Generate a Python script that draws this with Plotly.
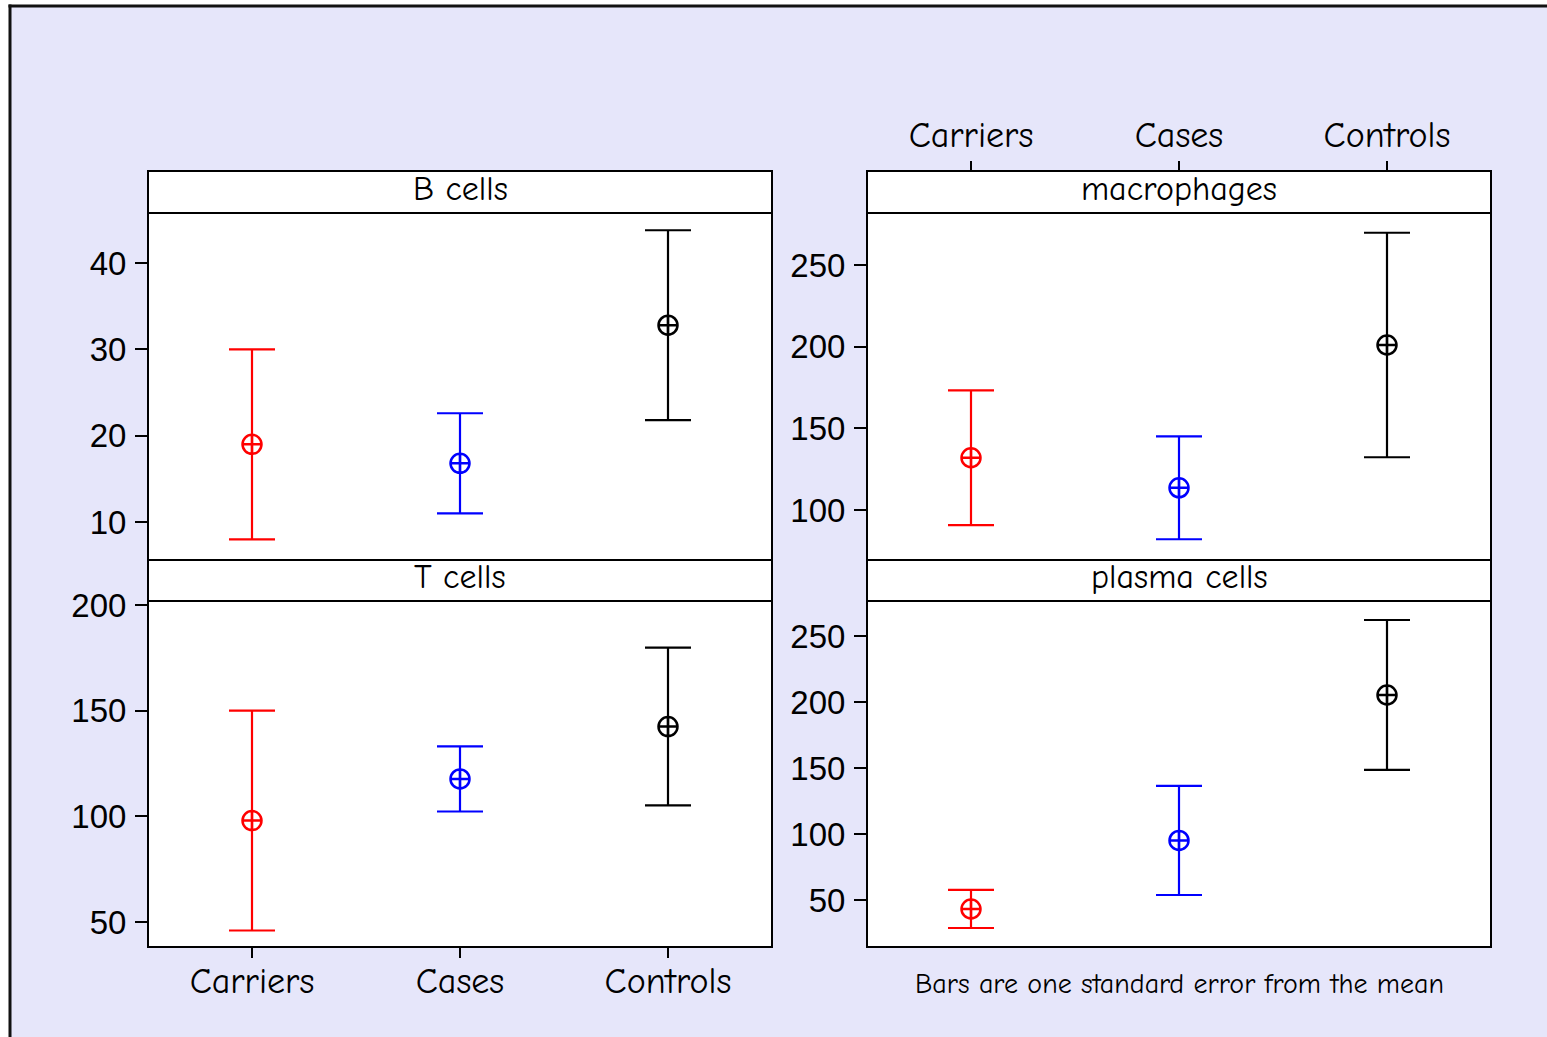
import plotly.graph_objects as go

W, H = 1547, 1037

# ---- data -------------------------------------------------------------
categories = ["Carriers", "Cases", "Controls"]
group_colors = ["#FF0000", "#0000FF", "#000000"]

b_mean = [19.0, 16.8, 32.8]
b_se = [11.0, 5.8, 11.0]

t_mean = [98.0, 117.7, 142.5]
t_se = [52.0, 15.4, 37.3]

mac_mean = [132.0, 113.6, 201.0]
mac_se = [41.2, 31.5, 68.7]

plasma_mean = [43.2, 95.1, 205.3]
plasma_se = [14.4, 41.3, 56.8]

b_ticks = [10, 20, 30, 40]
t_ticks = [50, 100, 150, 200]
mac_ticks = [100, 150, 200, 250]
plasma_ticks = [50, 100, 150, 200, 250]

footnote = "Bars are one standard error from the mean"

# ---- layout geometry (pixels) -----------------------------------------
LEFT = (148, 772)
RIGHT = (867, 1491)
TOP = (213, 560)      # plot area, upper row
BOT = (601, 947)      # plot area, lower row
STRIP_TOP = (171, 213)
STRIP_BOT = (560, 601)

PAGE = "#E6E6FA"


def px(x):
    return x / W


def py(y):
    return 1 - y / H


panels = [
    # name, x-px, y-px, means, ses, yrange, yticks, strip
    ("B cells", LEFT, TOP, b_mean, b_se, [5.6, 45.8], b_ticks, STRIP_TOP),
    ("macrophages", RIGHT, TOP, mac_mean, mac_se, [69.4, 281.8], mac_ticks, STRIP_TOP),
    ("T cells", LEFT, BOT, t_mean, t_se, [38.2, 201.9], t_ticks, STRIP_BOT),
    ("plasma cells", RIGHT, BOT, plasma_mean, plasma_se, [14.4, 276.5], plasma_ticks, STRIP_BOT),
]

COMIC = "Comic Sans MS, Comic Neue, Lato, sans-serif"
NUMFONT = "Arial, Liberation Sans, sans-serif"

fig = go.Figure()
shapes = []
annotations = []
layout = {}

# white margin outside the page frame (left and top edges)
shapes.append(dict(type="rect", xref="paper", yref="paper",
                   x0=0, x1=px(10), y0=0, y1=1,
                   fillcolor="white", line=dict(width=0), layer="below"))
shapes.append(dict(type="rect", xref="paper", yref="paper",
                   x0=0, x1=1, y0=py(6), y1=1,
                   fillcolor="white", line=dict(width=0), layer="below"))
# frame lines
shapes.append(dict(type="line", xref="paper", yref="paper",
                   x0=px(10), x1=px(10), y0=0, y1=py(6) + 1.5 / H,
                   line=dict(color="#111111", width=3), layer="above"))
shapes.append(dict(type="line", xref="paper", yref="paper",
                   x0=px(10) - 1.5 / W, x1=1, y0=py(6), y1=py(6),
                   line=dict(color="#111111", width=3), layer="above"))

for i, (name, xr, yr, means, ses, yrange, yticks, strip) in enumerate(panels):
    n = i + 1
    xa = "x" if n == 1 else f"x{n}"
    ya = "y" if n == 1 else f"y{n}"
    xkey = "xaxis" if n == 1 else f"xaxis{n}"
    ykey = "yaxis" if n == 1 else f"yaxis{n}"

    for cat, m, s, c in zip(categories, means, ses, group_colors):
        fig.add_trace(go.Scatter(
            x=[categories.index(cat) + 1], y=[m],
            mode="markers",
            marker=dict(symbol="circle-cross-open", size=19, color=c,
                        line=dict(width=2.5, color=c)),
            error_y=dict(type="data", array=[s], visible=True,
                         color=c, thickness=2.2, width=23),
            xaxis=xa, yaxis=ya, showlegend=False, hoverinfo="skip",
        ))

    xdom = [px(xr[0]), px(xr[1])]
    ydom = [py(yr[1]), py(yr[0])]

    xaxis = dict(domain=xdom, range=[0.5, 3.5], showgrid=False,
                 zeroline=False, showline=False, fixedrange=True,
                 automargin=False,
                 tickvals=[1, 2, 3], ticktext=categories,
                 tickfont=dict(family=COMIC, size=36, color="black"),
                 ticks="", showticklabels=False, anchor=ya)
    if name == "T cells":
        xaxis.update(ticks="outside", ticklen=10, tickwidth=2,
                     tickcolor="black", showticklabels=True, side="bottom",
                     ticklabelstandoff=-8)
    if name == "macrophages":
        xaxis.update(ticks="outside", ticklen=10, tickwidth=2,
                     tickcolor="black", showticklabels=True, side="top",
                     anchor="free", position=py(strip[0]))
    layout[xkey] = xaxis

    layout[ykey] = dict(domain=ydom, range=yrange, showgrid=False,
                        zeroline=False, showline=False, fixedrange=True,
                        automargin=False,
                        tickvals=yticks, ticks="outside", ticklen=12,
                        tickwidth=2, tickcolor="black", ticklabelstandoff=2,
                        tickfont=dict(family=NUMFONT, size=33, color="black"),
                        anchor=xa)

    # panel border including strip
    shapes.append(dict(type="rect", xref="paper", yref="paper",
                       x0=px(xr[0]), x1=px(xr[1]), y0=py(yr[1]), y1=py(strip[0]),
                       line=dict(color="black", width=2), fillcolor="rgba(0,0,0,0)",
                       layer="above"))
    # strip
    shapes.append(dict(type="rect", xref="paper", yref="paper",
                       x0=px(xr[0]), x1=px(xr[1]), y0=py(strip[1]), y1=py(strip[0]),
                       line=dict(color="black", width=2), fillcolor="white",
                       layer="below"))
    annotations.append(dict(text=name, xref="paper", yref="paper",
                            x=(px(xr[0]) + px(xr[1])) / 2,
                            y=(py(strip[0]) + py(strip[1])) / 2 + 3 / H,
                            xanchor="center", yanchor="middle", showarrow=False,
                            font=dict(family=COMIC, size=34, color="black")))

annotations.append(dict(text=footnote, xref="paper", yref="paper",
                        x=(px(RIGHT[0]) + px(RIGHT[1])) / 2, y=py(984),
                        xanchor="center", yanchor="middle", showarrow=False,
                        font=dict(family=COMIC, size=28, color="black")))

fig.update_layout(
    width=W, height=H, autosize=False,
    margin=dict(l=0, r=0, t=0, b=0, autoexpand=False),
    paper_bgcolor=PAGE, plot_bgcolor="white",
    shapes=shapes, annotations=annotations,
    **layout,
)

fig.write_html("out.html")
